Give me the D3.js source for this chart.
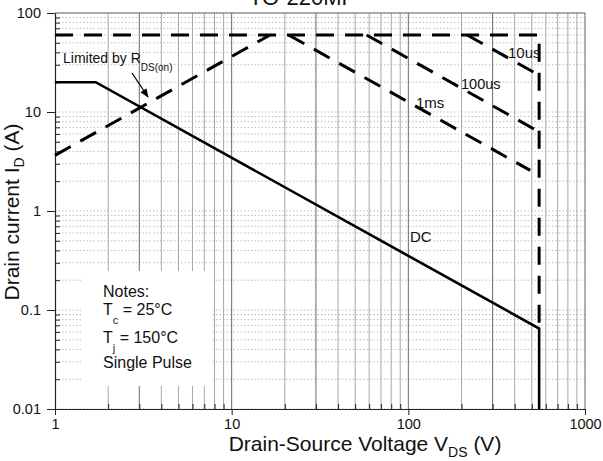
<!DOCTYPE html>
<html>
<head>
<meta charset="utf-8">
<script src="https://cdn.jsdelivr.net/npm/d3@7"></script>
<style>
  body { margin: 0; background: #fff; }
  svg text { font-family: Arial, "Liberation Sans", sans-serif; fill: #111; }
  .axis text { font-size: 14.5px; }
  .axis path, .axis line { stroke: #222; }
</style>
</head>
<body>
<svg id="chart"></svg>
<script>
// safe operating area (V in volts, I in amps)
const dcV = [1, 1.7, 550, 550];
const dcI = [20, 20, 0.065, 0.01];
const rdsV = [1, 16.5];
const rdsI = [3.65, 60];
const limitV = [1, 550, 550];
const limitI = [60, 60, 0.065];
const us10V = [215, 550];
const us10I = [60, 23.5];
const us100V = [58, 550];
const us100I = [60, 6.3];
const ms1V = [21, 490];
const ms1I = [60, 2.57];

const xTickLabels = [1, 10, 100, 1000];
const yTickLabels = [0.01, 0.1, 1, 10, 100];

class SoaChart {

    constructor(_config) {
        this.config = {
            parentElement: _config.parentElement,
            containerWidth: 603,
            containerHeight: 461,
            margin: {
                top: 13,
                right: 18,
                bottom: 52,
                left: 55
            }
        }
        this.initVis();
    }

    initVis() {
        let vis = this;
        vis.width = vis.config.containerWidth - vis.config.margin.left - vis.config.margin.right;
        vis.height = vis.config.containerHeight - vis.config.margin.top - vis.config.margin.bottom;

        vis.xScale = d3.scaleLog()
            .domain([1, 1000])
            .range([0, vis.width]);

        vis.yScale = d3.scaleLog()
            .domain([0.01, 100])
            .range([vis.height, 0]);

        vis.svg = d3.select(vis.config.parentElement)
            .attr('width', vis.config.containerWidth)
            .attr('height', vis.config.containerHeight);

        vis.svg.append('defs').append('marker')
            .attr('id', 'arrow')
            .attr('viewBox', '0 0 10 10')
            .attr('refX', 9)
            .attr('refY', 5)
            .attr('markerWidth', 7)
            .attr('markerHeight', 7)
            .attr('orient', 'auto')
          .append('path')
            .attr('d', 'M0,1 L10,5 L0,9 Z')
            .attr('fill', '#000');

        // cut off title at the very top
        vis.svg.append('text')
            .attr('x', 302)
            .attr('y', 5)
            .attr('text-anchor', 'middle')
            .style('font-size', '22px')
            .text('TO-220MF');

        vis.chart = vis.svg.append('g')
            .attr('transform', `translate(${vis.config.margin.left},${vis.config.margin.top})`);

        vis.renderVis();
    }

    renderVis() {
        let vis = this;

        // grid
        vis.chart.append('g').selectAll('line')
            .data(vis.yScale.ticks())
            .join('line')
            .attr('x1', 0)
            .attr('x2', vis.width)
            .attr('y1', d => vis.yScale(d))
            .attr('y2', d => vis.yScale(d))
            .attr('stroke', '#bdbdbd')
            .attr('stroke-dasharray', '1.5,2');

        vis.chart.append('g').selectAll('line')
            .data(vis.xScale.ticks().filter(d => d > 1 && d < 1000))
            .join('line')
            .attr('x1', d => vis.xScale(d))
            .attr('x2', d => vis.xScale(d))
            .attr('y1', 0)
            .attr('y2', vis.height)
            .attr('stroke', d => [3, 10, 30, 100, 300].includes(d) ? '#6a6a6a' : '#a8a8a8')
            .attr('stroke-width', 1);

        // frame top / right
        vis.chart.append('path')
            .attr('d', `M0,0 H${vis.width} V${vis.height}`)
            .attr('fill', 'none')
            .attr('stroke', '#666');

        // notes box hides the grid behind it
        vis.chart.append('rect')
            .attr('x', 27)
            .attr('y', 258)
            .attr('width', 131)
            .attr('height', 115)
            .attr('fill', '#fff');

        // axes
        vis.xAxis = d3.axisBottom(vis.xScale)
            .tickValues(xTickLabels)
            .tickFormat(d => d)
            .tickSize(6)
            .tickPadding(4)
            .tickSizeOuter(0);

        vis.yAxis = d3.axisLeft(vis.yScale)
            .tickValues(yTickLabels)
            .tickFormat(d => d)
            .tickSize(8)
            .tickPadding(6)
            .tickSizeOuter(0);

        vis.xAxisG = vis.chart.append('g')
            .attr('class', 'axis x-axis')
            .attr('transform', `translate(0,${vis.height})`)
            .call(vis.xAxis);

        vis.yAxisG = vis.chart.append('g')
            .attr('class', 'axis y-axis')
            .call(vis.yAxis);

        // minor ticks, inward
        vis.chart.append('g')
            .attr('class', 'axis')
            .call(d3.axisRight(vis.yScale)
                .tickValues(vis.yScale.ticks().filter(d => !yTickLabels.includes(d)))
                .tickFormat('')
                .tickSize(5))
            .call(g => g.select('.domain').remove());

        vis.chart.append('g')
            .attr('class', 'axis')
            .attr('transform', `translate(0,${vis.height})`)
            .call(d3.axisTop(vis.xScale)
                .tickValues(vis.xScale.ticks().filter(d => !xTickLabels.includes(d)))
                .tickFormat('')
                .tickSize(5))
            .call(g => g.select('.domain').remove());

        vis.xAxisG.select('.domain').attr('stroke-width', 1.2);
        vis.yAxisG.select('.domain').attr('stroke-width', 1.2);

        // curves
        vis.line = d3.line()
            .x(d => vis.xScale(d[0]))
            .y(d => vis.yScale(d[1]));

        const dashed = [
            d3.zip(limitV, limitI),
            d3.zip(rdsV, rdsI),
            d3.zip(us10V, us10I),
            d3.zip(us100V, us100I),
            d3.zip(ms1V, ms1I)
        ];

        vis.chart.selectAll('.pulse')
            .data(dashed)
            .join('path')
            .attr('class', 'pulse')
            .attr('d', vis.line)
            .attr('fill', 'none')
            .attr('stroke', '#000')
            .attr('stroke-width', 3)
            .attr('stroke-dasharray', '18,11');

        vis.chart.append('path')
            .datum(d3.zip(dcV, dcI))
            .attr('d', vis.line)
            .attr('fill', 'none')
            .attr('stroke', '#000')
            .attr('stroke-width', 2.6);

        // labels
        const lab = (x, y, txt, size) => vis.svg.append('text')
            .attr('x', x)
            .attr('y', y)
            .style('font-size', size + 'px')
            .text(txt);

        const lim = lab(63, 63, 'Limited by R', 14);
        lim.append('tspan').attr('dy', 8).style('font-size', '10px').text('DS(on)');

        vis.svg.append('line')
            .attr('x1', 132)
            .attr('y1', 73)
            .attr('x2', 148)
            .attr('y2', 97)
            .attr('stroke', '#000')
            .attr('stroke-width', 1.3)
            .attr('marker-end', 'url(#arrow)');

        lab(508, 58, '10us', 15);
        lab(461, 89, '100us', 14.5);
        lab(416, 108, '1ms', 15);
        lab(410, 242, 'DC', 15);

        lab(103, 297, 'Notes:', 16);
        const tc = lab(103, 315, 'T', 16);
        tc.append('tspan').attr('dy', 9).style('font-size', '11px').text('c');
        tc.append('tspan').attr('dy', -9).text(' = 25°C');
        const tj = lab(103, 343, 'T', 16);
        tj.append('tspan').attr('dy', 9).style('font-size', '11px').text('j');
        tj.append('tspan').attr('dy', -9).text(' = 150°C');
        lab(103, 368, 'Single Pulse', 16);

        // axis titles
        const xt = vis.svg.append('text')
            .attr('x', 365)
            .attr('y', 451)
            .attr('text-anchor', 'middle')
            .style('font-size', '21px')
            .text('Drain-Source Voltage V');
        xt.append('tspan').attr('dy', 6).style('font-size', '14px').text('DS');
        xt.append('tspan').attr('dy', -6).text(' (V)');

        const yt = vis.svg.append('text')
            .attr('transform', 'translate(19,212) rotate(-90)')
            .attr('text-anchor', 'middle')
            .style('font-size', '21px')
            .text('Drain current I');
        yt.append('tspan').attr('dy', 5).style('font-size', '14px').text('D');
        yt.append('tspan').attr('dy', -5).text(' (A)');
    }
}

new SoaChart({ parentElement: '#chart' });
</script>
</body>
</html>
